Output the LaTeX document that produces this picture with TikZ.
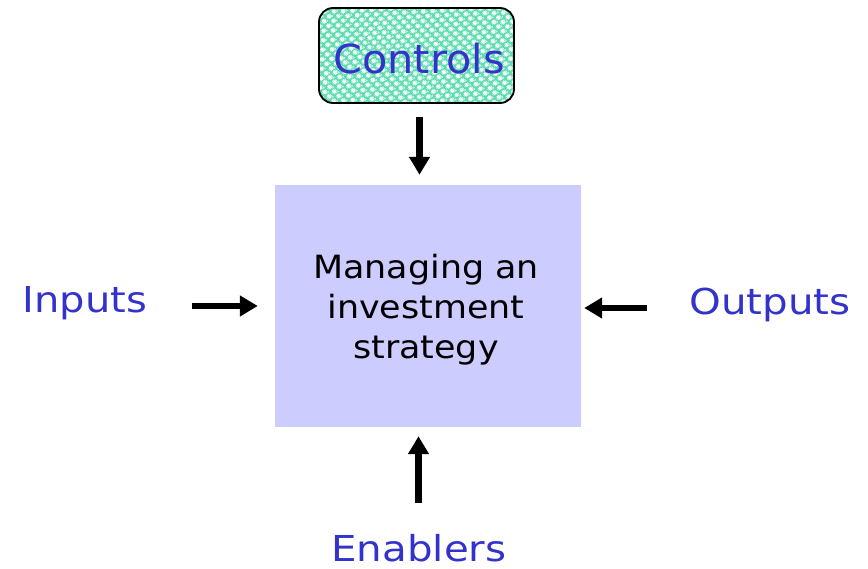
\documentclass[tikz,border=0pt]{standalone}
\usepackage{fontspec}
\setmainfont{DejaVu Sans}
\usetikzlibrary{arrows.meta,patterns.meta}
\definecolor{lblue}{HTML}{3333CC}
\definecolor{boxfill}{HTML}{CCCCFF}
\definecolor{mint}{HTML}{5EDCB0}
\tikzset{
  lbl/.style={text=lblue, font=\fontsize{35.7}{42}\selectfont, inner sep=0pt, anchor=base},
  flow/.style={line width=6.5pt, -{Triangle[width=20pt,length=18pt]}},
}
\newcommand{\wide}[2]{\scalebox{#1}[1]{#2}}
\begin{document}
\begin{tikzpicture}[x=1pt,y=-1pt]
\useasboundingbox (0,0) rectangle (868,568);
% controls box with a dotted mint pattern
\fill[mint, rounded corners=14pt] (319,8) rectangle (514,103);
\path[pattern={Dots[distance=6.5pt,radius=2.6pt,angle=45]}, pattern color=white!92!mint, rounded corners=14pt] (319,8) rectangle (514,103);
\path[pattern={Dots[distance=6.5pt,radius=1.2pt,angle=45,xshift=3.25pt]}, pattern color=white!75!mint, rounded corners=14pt] (319,8) rectangle (514,103);
\draw[line width=1.8pt, rounded corners=14pt] (319,8) rectangle (514,103);
\node[lbl, font=\fontsize{40}{44}\selectfont] (ctl) at (419,73) {\wide{1.035}{Controls}};
% central activity box
\node[fill=boxfill, minimum width=306pt, minimum height=242pt, inner sep=0pt] (main) at (428,306) {};
\node[inner sep=0pt, font=\fontsize{32}{40}\selectfont] (mtext) at (426,310)
  {\wide{1.09}{\begin{tabular}{@{}c@{}}Managing an\\investment\\strategy\end{tabular}}};
% side labels
\node[lbl] (in) at (85,312) {\wide{1.12}{Inputs}};
\node[lbl] (out) at (770,314) {\wide{1.13}{Outputs}};
\node[lbl] (en) at (419,561) {\wide{1.13}{Enablers}};
% free tails of the arrows
\coordinate (ctlb) at (419.5,117);
\coordinate (inr) at (192,306);
\coordinate (outl) at (647,308);
\coordinate (ent) at (418.5,503);
% arrows into the box
\draw[flow, shorten >=10pt] (ctlb) -- (ctlb |- main.north);
\draw[flow, shorten >=17pt] (inr) -- (inr -| main.west);
\draw[flow, shorten >=3pt] (outl) -- (outl -| main.east);
\draw[flow, shorten >=9pt] (ent) -- (ent |- main.south);
\end{tikzpicture}
\end{document}
